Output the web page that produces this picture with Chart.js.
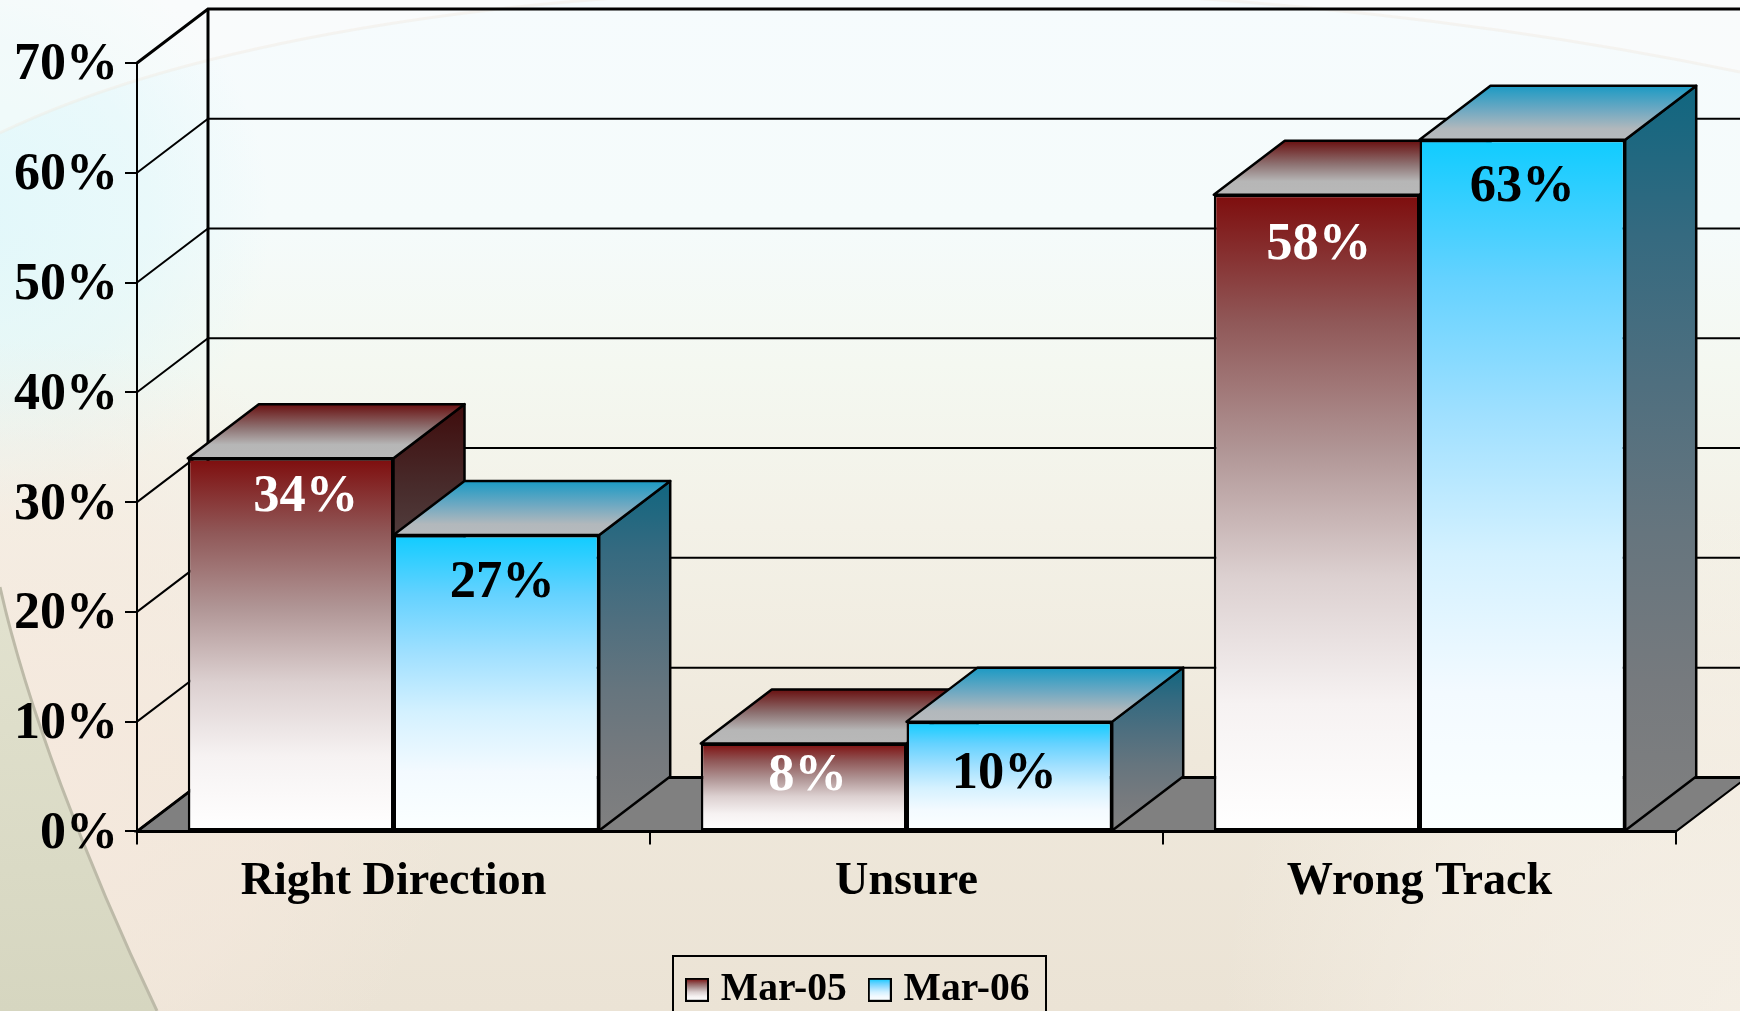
<!DOCTYPE html>
<html>
<head>
<meta charset="utf-8">
<title>Right Direction / Wrong Track</title>
<script src="https://cdn.jsdelivr.net/npm/chart.js@4/dist/chart.umd.min.js"></script>
<style>
  html, body { margin: 0; padding: 0; background: #f3efe5; overflow: hidden; }
  canvas { display: block; }
</style>
</head>
<body>
<canvas id="balken" width="1740" height="1011"></canvas>
<script>
// Daten
const categories = ['Right Direction', 'Unsure', 'Wrong Track'];
const seriesNames = ['Mar-05', 'Mar-06'];
const mar05 = [34, 8, 58];
const mar06 = [27, 10, 63];
const yTickLabels = ['0%', '10%', '20%', '30%', '40%', '50%', '60%', '70%'];

// Verschiebung der Beschriftungen gegenueber der Balkenkante [x, y]
const nudge05 = [[15, 39], [4, 33], [2, 51]];
const nudge06 = [[6, 48], [-5, 53], [0, 48]];

const font = 'Liberation Serif';
const depthX = 71;
const depthY = 54;
const edge = 2.5;

const front05 = [[0, '#7e0d0d'], [0.2, '#905858'], [0.4, '#b09595'], [0.6, '#dcd0d0'], [0.8, '#f6f2f2'], [1, '#ffffff']];
const front06 = [[0, '#10ccff'], [0.2, '#64d2ff'], [0.4, '#a0e0ff'], [0.6, '#d4f1ff'], [0.8, '#f3faff'], [1, '#fbffff']];
const top05 = [[0, '#691010'], [0.45, '#8f7575'], [0.75, '#b6b6b6'], [1, '#b8b8b8']];
const top06 = [[0, '#1b9ac4'], [0.45, '#6fa9c2'], [0.8, '#b2b8bc'], [1, '#b6babd']];
const side05 = [[0, '#3f0c0c'], [0.2, '#482c2c'], [0.4, '#584a4a'], [0.6, '#6e6868'], [0.8, '#7b7979'], [1, '#808080']];
const side06 = [[0, '#106680'], [0.2, '#356a80'], [0.4, '#4f6f7f'], [0.6, '#66757e'], [0.8, '#767a7e'], [1, '#808080']];

function gradient(ctx, y0, y1, stops) {
  const g = ctx.createLinearGradient(0, y0, 0, y1);
  stops.forEach(s => g.addColorStop(s[0], s[1]));
  return g;
}

function frontFill(stops) {
  return function (c) {
    if (c.type !== 'data' || !c.chart.chartArea) return stops[0][1];
    const y = c.chart.scales.y;
    return gradient(c.chart.ctx, y.getPixelForValue(c.raw), y.getPixelForValue(0), stops);
  };
}

// kleines Kaestchen fuer die Legende
function swatch(stops) {
  const cv = document.createElement('canvas');
  cv.width = 24;
  cv.height = 24;
  const c = cv.getContext('2d');
  c.fillStyle = gradient(c, 1, 23, stops);
  c.fillRect(0, 0, 24, 24);
  c.strokeStyle = '#000';
  c.lineWidth = 2;
  c.strokeRect(1, 1, 22, 22);
  return cv;
}
const swatches = [swatch(front05), swatch(front06)];

function poly(ctx, pts, fill) {
  ctx.beginPath();
  pts.forEach((p, i) => i ? ctx.lineTo(p[0], p[1]) : ctx.moveTo(p[0], p[1]));
  ctx.closePath();
  if (fill) {
    ctx.fillStyle = fill;
    ctx.fill();
  }
  ctx.stroke();
}

function glow(ctx, x, y, r, rgb, alpha, w, h) {
  const g = ctx.createRadialGradient(x, y, 0, x, y, r);
  g.addColorStop(0, 'rgba(' + rgb + ',' + alpha + ')');
  g.addColorStop(0.6, 'rgba(' + rgb + ',' + alpha * 0.6 + ')');
  g.addColorStop(1, 'rgba(' + rgb + ',0)');
  ctx.fillStyle = g;
  ctx.fillRect(0, 0, w, h);
}

function drawBackground(ctx, w, h) {
  const g = ctx.createLinearGradient(0, 0, 0, h);
  g.addColorStop(0, '#f6fbfd');
  g.addColorStop(0.22, '#f5fbfb');
  g.addColorStop(0.36, '#f4f8f1');
  g.addColorStop(0.52, '#f3f1e7');
  g.addColorStop(0.75, '#efe8db');
  g.addColorStop(1, '#ebe3d5');
  ctx.fillStyle = g;
  ctx.fillRect(0, 0, w, h);

  // hellblau links oben, warm unten links, heller unten rechts
  glow(ctx, -30, 220, 300, '222,247,250', 0.85, w, h);
  glow(ctx, 40, 760, 420, '246,233,222', 0.85, w, h);
  glow(ctx, w, h, 520, '248,243,235', 0.7, w, h);

  // Bogen oben
  ctx.save();
  ctx.beginPath();
  ctx.moveTo(0, 133);
  ctx.bezierCurveTo(350, -35, 1100, -60, w, 72);
  ctx.lineTo(w, 0);
  ctx.lineTo(0, 0);
  ctx.closePath();
  ctx.fillStyle = 'rgba(255,253,249,0.4)';
  ctx.fill();
  ctx.beginPath();
  ctx.moveTo(0, 133);
  ctx.bezierCurveTo(350, -35, 1100, -60, w, 72);
  ctx.strokeStyle = 'rgba(240,232,222,0.4)';
  ctx.lineWidth = 3;
  ctx.stroke();
  ctx.restore();

  // gruenlicher Bogen unten links
  ctx.save();
  ctx.beginPath();
  ctx.moveTo(0, 587);
  ctx.bezierCurveTo(25, 700, 85, 860, 157, 1011);
  ctx.lineTo(0, 1011);
  ctx.closePath();
  const green = ctx.createLinearGradient(0, 587, 0, 1011);
  green.addColorStop(0, '#e2e2cf');
  green.addColorStop(1, '#d6d6c0');
  ctx.fillStyle = green;
  ctx.fill();
  ctx.beginPath();
  ctx.moveTo(0, 587);
  ctx.bezierCurveTo(25, 700, 85, 860, 157, 1011);
  ctx.strokeStyle = '#bdbaa8';
  ctx.lineWidth = 3;
  ctx.stroke();
  ctx.restore();
}

// Hintergrund, Waende und Boden
const wallPlugin = {
  id: 'wall',
  beforeDraw(chart) {
    const ctx = chart.ctx;
    const x = chart.scales.x;
    const y = chart.scales.y;
    drawBackground(ctx, chart.width, chart.height);
    const left = x.left;
    const right = x.right;
    const base = y.getPixelForValue(0);
    ctx.save();
    ctx.strokeStyle = '#000';
    ctx.lineWidth = 2;
    poly(ctx, [[left, base], [left + depthX, base - depthY], [right + depthX, base - depthY], [right, base]], '#808080');
    yTickLabels.forEach((t, i) => {
      const py = y.getPixelForValue(i * 10);
      ctx.lineWidth = i === 7 || i === 0 ? 3 : 2;
      ctx.beginPath();
      ctx.moveTo(left, py);
      ctx.lineTo(left + depthX, py - depthY);
      ctx.lineTo(chart.width + 10, py - depthY);
      ctx.stroke();
    });
    ctx.lineWidth = 3;
    ctx.beginPath();
    ctx.moveTo(left + depthX, y.getPixelForValue(70) - depthY);
    ctx.lineTo(left + depthX, base - depthY);
    ctx.stroke();
    ctx.restore();
  },
  // Oberseite und Seite: erst Mar-05, dann Mar-06, die Vorderseiten kommen danach von Chart.js
  beforeDatasetsDraw(chart) {
    const ctx = chart.ctx;
    ctx.save();
    ctx.strokeStyle = '#000';
    ctx.lineWidth = edge;
    ctx.lineJoin = 'round';
    [[top05, side05], [top06, side06]].forEach((faces, d) => {
      chart.getDatasetMeta(d).data.forEach(bar => {
        const l = bar.x - bar.width / 2;
        const r = bar.x + bar.width / 2;
        poly(ctx, [[r, bar.y], [r + depthX, bar.y - depthY], [r + depthX, bar.base - depthY], [r, bar.base]],
          gradient(ctx, bar.y - depthY, bar.base, faces[1]));
        poly(ctx, [[l, bar.y], [l + depthX, bar.y - depthY], [r + depthX, bar.y - depthY], [r, bar.y]],
          gradient(ctx, bar.y - depthY, bar.y, faces[0]));
      });
    });
    ctx.restore();
  },
  afterDraw(chart) {
    const ctx = chart.ctx;
    ctx.save();
    // Wertebeschriftung
    ctx.font = 'bold 52.5px "' + font + '"';
    ctx.textAlign = 'center';
    ctx.textBaseline = 'middle';
    [[mar05, nudge05, '#ffffff'], [mar06, nudge06, '#000000']].forEach((s, d) => {
      chart.getDatasetMeta(d).data.forEach((bar, i) => {
        ctx.fillStyle = s[2];
        ctx.fillText(s[0][i] + '%', bar.x + s[1][i][0], bar.y + s[1][i][1]);
      });
    });
    // Rahmen der Legende
    ctx.strokeStyle = '#000';
    ctx.lineWidth = 2;
    ctx.strokeRect(673, 956, 373, 70);
    ctx.restore();
  },
  afterLayout(chart) {
    chart.legend.left = 664;
    chart.legend.top = 941;
  }
};

new Chart(document.querySelector('#balken'), {
  type: 'bar',
  plugins: [wallPlugin],
  data: {
    labels: categories,
    datasets: [
      { label: seriesNames[0], data: mar05, backgroundColor: frontFill(front05) },
      { label: seriesNames[1], data: mar06, backgroundColor: frontFill(front06) }
    ]
  },
  options: {
    responsive: false,
    animation: false,
    devicePixelRatio: 1,
    layout: { padding: { left: 0, top: 63, right: 64, bottom: 0 } },
    datasets: {
      bar: {
        categoryPercentage: 0.802,
        barPercentage: 1,
        borderColor: '#000',
        borderWidth: edge,
        borderSkipped: false
      }
    },
    scales: {
      x: {
        afterFit: s => { s.height = 101; },
        border: { color: '#000', width: 3 },
        grid: { drawOnChartArea: false, color: '#000', lineWidth: 2, tickLength: 13, offset: true },
        ticks: { color: '#000', padding: 10, maxRotation: 0, font: { family: font, size: 46.2, weight: 'bold' } }
      },
      y: {
        min: 0,
        max: 70,
        afterFit: s => { s.width = 137; },
        border: { color: '#000', width: 2 },
        grid: { drawOnChartArea: false, color: '#000', lineWidth: 2, tickLength: 12 },
        ticks: {
          stepSize: 10,
          color: '#000',
          padding: 7,
          labelOffset: 3,
          font: { family: font, size: 52, weight: 'bold' },
          callback: (v, i) => yTickLabels[i]
        }
      }
    },
    plugins: {
      title: { display: false },
      tooltip: { enabled: false },
      legend: {
        position: 'bottom',
        align: 'start',
        labels: {
          usePointStyle: true,
          pointStyleWidth: 8,
          padding: 29,
          color: '#000',
          font: { family: font, size: 39.6, weight: 'bold' },
          generateLabels: () => seriesNames.map((n, i) => ({
            text: n,
            pointStyle: swatches[i],
            datasetIndex: i,
            fontColor: '#000',
            lineWidth: 0
          }))
        }
      }
    }
  }
});
</script>
</body>
</html>
